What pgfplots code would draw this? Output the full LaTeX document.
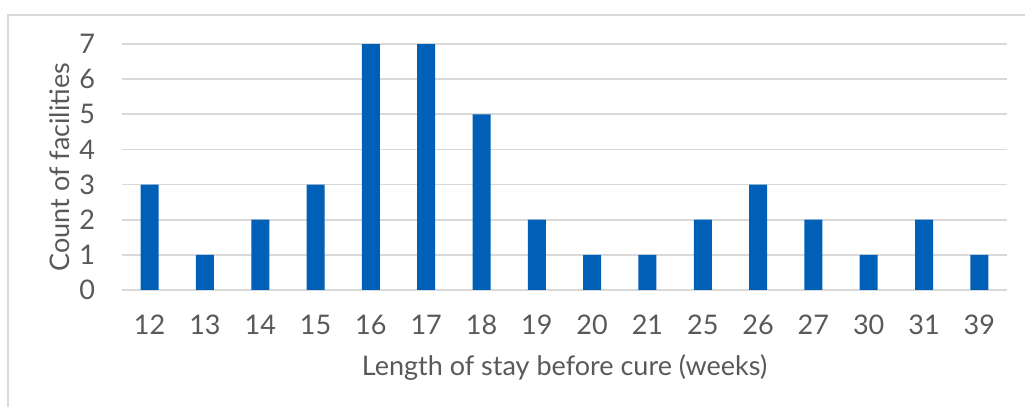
\documentclass[border=0pt]{standalone}
\usepackage{pgfplots}
\pgfplotsset{compat=1.18}
\usepackage{fontspec}
\setmainfont{Lato}
\definecolor{barblue}{HTML}{0060B8}
\definecolor{gridgray}{HTML}{D9D9D9}
\definecolor{txtgray}{HTML}{595959}

\begin{document}
\begin{tikzpicture}
\useasboundingbox (0pt,0pt) rectangle (512.5pt,203.5pt);
% outer chart frame (runs past right/bottom edge)
\draw[gridgray, line width=0.8pt] (4pt,-20pt) -- (4pt,196pt) -- (540pt,196pt);
\begin{axis}[
    at={(61pt,58.5pt)}, anchor=south west,
    scale only axis,
    width=442.5pt, height=123pt,
    xmin=-0.5, xmax=15.5,
    ymin=0, ymax=7,
    ytick={0,...,7},
    xtick={0,...,15},
    xticklabels={12,13,14,15,16,17,18,19,20,21,25,26,27,30,31,39},
    axis line style={draw=none},
    major tick length=0pt,
    ymajorgrids,
    grid style={gridgray, line width=0.8pt},
    tick label style={font=\fontsize{13.5}{15}\selectfont, text=txtgray},
    /pgf/number format/assume math mode=true,
    xticklabel style={yshift=-9pt},
    yticklabel style={xshift=-10pt},
    xlabel={Length of stay before cure (weeks)},
    ylabel={Count of facilities},
    label style={font=\fontsize{13.5}{15}\selectfont, text=txtgray},
    xlabel style={yshift=-3pt},
    ylabel style={at={(axis description cs:-0.07,0.5)}, anchor=center},
    clip=false,
]
\addplot[ybar, bar width=9pt, fill=barblue, draw=none] coordinates {
    (0,3) (1,1) (2,2) (3,3) (4,7) (5,7) (6,5) (7,2)
    (8,1) (9,1) (10,2) (11,3) (12,2) (13,1) (14,2) (15,1)
};
\end{axis}
\end{tikzpicture}
\end{document}
